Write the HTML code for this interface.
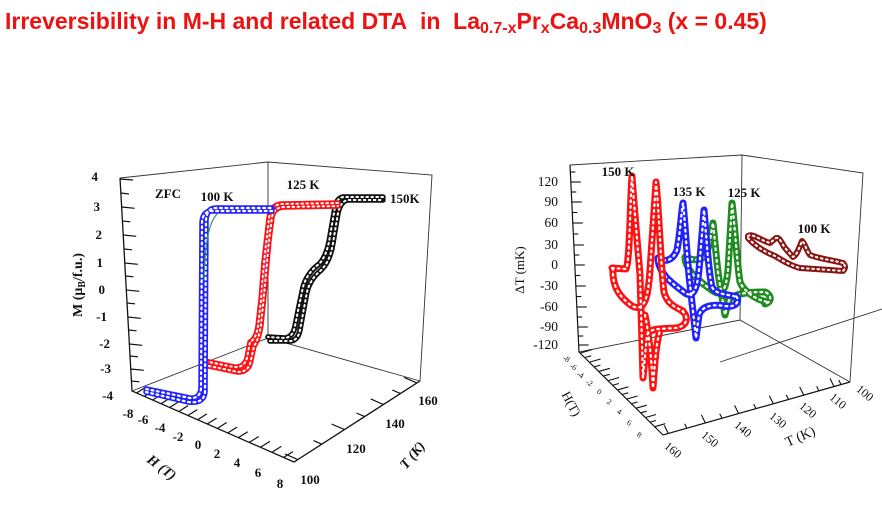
<!DOCTYPE html>
<html><head><meta charset="utf-8"><style>
html,body{margin:0;padding:0;background:#fff;}
svg{display:block;}
</style></head><body>
<svg width="882" height="513" viewBox="0 0 882 513" xmlns="http://www.w3.org/2000/svg" xmlns:xlink="http://www.w3.org/1999/xlink">
<rect width="882" height="513" fill="#fff"/>
<defs>
<path id="lb1" d="M272,211 L212,211 Q203,211 202,222 L201,388 Q200,399 190,398 L146,389"/>
<path id="lb2" d="M146,392 L188,402 Q204,404 205,392 L206,220 Q207,208 216,208 L272,208"/>
<path id="lr1" d="M338,203 L281,204 Q271,205 269,218 L264,262 L261,300 L258,326 Q256,339 250,342 L247,358 Q244,368 234,367 L204,361"/>
<path id="lr2" d="M204,365 L238,372 Q249,372 251,360 L254,346 Q259,339 261,325 L265,285 L269,240 L272,217 Q274,207 285,207 L338,206"/>
<path id="lk1" d="M383,197 L343,197 Q337,198 335,207 L330,236 Q327,256 319,264 Q307,273 303,287 L299,306 L295,326 Q293,337 285,338 L268,337"/>
<path id="lk2" d="M270,341 L291,341 Q298,340 300,330 L304,308 L307,292 Q310,280 319,272 Q330,263 333,243 L338,213 Q341,200 349,200 L383,200"/>
<path id="rd1" d="M748,236 C752,233 760,240 770,243 L776,238 C780,237 782,244 785,248 L793,257 C797,255 799,248 802,241 C805,243 806,250 810,255 C820,259 832,260 843,263"/>
<path id="rd2" d="M748,238 C755,246 765,252 775,256 C785,262 792,266 800,268 L830,270 L843,271 Q847,267 843,263"/>
<path id="rg1" d="M685,257 C692,260 700,262 706,255 C710,245 711,232 713,223 C715,240 717,270 720,285 L725,315 L729,300 C735,293 750,292 765,292 C772,295 772,302 765,304"/>
<path id="rg2" d="M685,259 C687,272 700,282 713,291 C722,297 726,290 728,270 L732,203 C735,225 737,265 740,282 C743,290 755,300 768,302"/>
<path id="rb1" d="M658,258 C664,262 672,262 677,250 C680,235 681,215 683,203 C685,220 687,260 690,285 L696,338 L699,315 C702,306 712,304 725,306 C737,308 740,300 736,296"/>
<path id="rb2" d="M658,260 C660,275 672,283 685,293 C693,298 697,290 699,270 L704,210 C706,230 708,270 712,287 C716,295 728,294 737,297"/>
<path id="rr1" d="M612,268 L626,269 C630,262 630,200 632,176 C634,205 638,250 640,275 L643,378 L647,335 C650,328 660,329 676,328 C688,326 689,316 682,311"/>
<path id="rr2" d="M613,268 C612,285 618,296 632,306 C644,312 648,300 650,270 L656,182 C659,210 661,270 664,292 C667,304 675,307 683,311"/>
<path id="rr3" d="M645,315 C648,330 651,350 653,388 C655,360 656,345 660,330"/>
</defs>

<text x="5" y="29" font-family="'Liberation Sans', Arial, sans-serif" font-weight="bold" font-size="23" fill="#ee1111">Irreversibility in M-H and related DTA&#160; in&#160; La<tspan font-size="16" dy="4">0.7-x</tspan><tspan dy="-4">Pr</tspan><tspan font-size="16" dy="4">x</tspan><tspan dy="-4">Ca</tspan><tspan font-size="16" dy="4">0.3</tspan><tspan dy="-4">MnO</tspan><tspan font-size="16" dy="4">3</tspan><tspan dy="-4"> (x = 0.45)</tspan></text>

<g fill="none" stroke="#333" stroke-width="0.9">
<path d="M120,178 L268,162 L432,175 L420,381"/>
<path d="M268,162 L268,338 M132,391 L268,338 L420,381"/>
</g>
<g fill="none" stroke="#111" stroke-width="1.3">
<path d="M120,178 L132,391 L294,462 L420,381"/>
</g>
<g stroke="#111" stroke-width="1.2">
<line x1="120.1" y1="179" x2="133" y2="180"/>
<line x1="120.8" y1="193" x2="129" y2="194"/>
<line x1="121.6" y1="207" x2="134.6" y2="208.3"/>
<line x1="122.4" y1="221" x2="130.4" y2="221.8"/>
<line x1="123.2" y1="235" x2="136.2" y2="236.3"/>
<line x1="124" y1="249" x2="132" y2="249.8"/>
<line x1="124.8" y1="263" x2="137.8" y2="264.3"/>
<line x1="125.5" y1="276" x2="133.5" y2="276.8"/>
<line x1="126.3" y1="290" x2="139.3" y2="291.3"/>
<line x1="127" y1="303" x2="135" y2="303.8"/>
<line x1="127.8" y1="317" x2="140.8" y2="318.3"/>
<line x1="128.6" y1="330" x2="136.6" y2="330.8"/>
<line x1="129.3" y1="344" x2="142.3" y2="345.3"/>
<line x1="130" y1="356" x2="138" y2="356.8"/>
<line x1="130.8" y1="369" x2="143.8" y2="370.3"/>
<line x1="131.4" y1="381" x2="139.4" y2="381.8"/>
</g>
<g stroke="#111" stroke-width="1.2">
<line x1="136.5" y1="393" x2="145.8" y2="387.1"/>
<line x1="144.3" y1="396.4" x2="153.6" y2="390.5"/>
<line x1="152.6" y1="400" x2="161.9" y2="394.1"/>
<line x1="161" y1="403.7" x2="170.3" y2="397.8"/>
<line x1="169.6" y1="407.5" x2="178.9" y2="401.6"/>
<line x1="178.8" y1="411.5" x2="188.1" y2="405.6"/>
<line x1="187.9" y1="415.5" x2="197.2" y2="409.6"/>
<line x1="197.6" y1="419.8" x2="206.9" y2="413.9"/>
<line x1="207.3" y1="424" x2="216.6" y2="418.1"/>
<line x1="217.4" y1="428.4" x2="226.7" y2="422.5"/>
<line x1="227.7" y1="433" x2="237" y2="427.1"/>
<line x1="238.4" y1="437.6" x2="247.7" y2="431.7"/>
<line x1="249.3" y1="442.4" x2="258.6" y2="436.5"/>
<line x1="260.5" y1="447.3" x2="269.8" y2="441.4"/>
<line x1="272" y1="452.3" x2="281.3" y2="446.4"/>
<line x1="283.6" y1="457.5" x2="292.9" y2="451.6"/>
</g>
<g stroke="#111" stroke-width="1.2">
<line x1="297.8" y1="459.6" x2="285" y2="454"/>
<line x1="321.7" y1="444.2" x2="313.5" y2="440.6"/>
<line x1="344.4" y1="429.6" x2="331.6" y2="424"/>
<line x1="364.6" y1="416.6" x2="356.4" y2="413"/>
<line x1="383.5" y1="404.5" x2="370.7" y2="398.9"/>
<line x1="400.5" y1="393.6" x2="392.3" y2="390"/>
<line x1="416.9" y1="383" x2="404.1" y2="377.4"/>
</g>

<g fill="none" stroke-linecap="round" stroke-linejoin="round">
<use xlink:href="#lk1" href="#lk1" stroke="#111" stroke-width="5.5"/>
<use xlink:href="#lk2" href="#lk2" stroke="#111" stroke-width="5.5"/>
<use xlink:href="#lk1" href="#lk1" stroke="#fff" stroke-width="2" stroke-dasharray="1.6 3.4"/>
<use xlink:href="#lk2" href="#lk2" stroke="#fff" stroke-width="2" stroke-dasharray="1.6 3.4"/>
<use xlink:href="#lr1" href="#lr1" stroke="#ff1111" stroke-width="5.5"/>
<use xlink:href="#lr2" href="#lr2" stroke="#ff1111" stroke-width="5.5"/>
<use xlink:href="#lr1" href="#lr1" stroke="#fff" stroke-width="2" stroke-dasharray="1.6 3.4"/>
<use xlink:href="#lr2" href="#lr2" stroke="#fff" stroke-width="2" stroke-dasharray="1.6 3.4"/>
<path d="M262,295 L268,240" stroke="#e040a0" stroke-width="1"/>
<use xlink:href="#lb1" href="#lb1" stroke="#2222ff" stroke-width="5.5"/>
<use xlink:href="#lb2" href="#lb2" stroke="#2222ff" stroke-width="5.5"/>
<use xlink:href="#lb1" href="#lb1" stroke="#fff" stroke-width="2.2" stroke-dasharray="1.8 3.6"/>
<use xlink:href="#lb2" href="#lb2" stroke="#fff" stroke-width="2.2" stroke-dasharray="1.8 3.6"/>
<path d="M204,280 C205,250 207,225 217,214" stroke="#2a9a5a" stroke-width="1.2"/>
</g>

<g font-family="'Liberation Serif', 'Times New Roman', serif" font-weight="bold" font-size="13" fill="#111">
<g text-anchor="end">
<text x="98" y="181">4</text>
<text x="100" y="211">3</text>
<text x="102" y="239">2</text>
<text x="103" y="267">1</text>
<text x="105" y="294">0</text>
<text x="107" y="321">-1</text>
<text x="110" y="348">-2</text>
<text x="111" y="373">-3</text>
<text x="113" y="400">-4</text>
</g>
<g text-anchor="middle">
<text x="128" y="418">-8</text>
<text x="143" y="424">-6</text>
<text x="160" y="432">-4</text>
<text x="178" y="441">-2</text>
<text x="198" y="449">0</text>
<text x="217" y="458">2</text>
<text x="237" y="467">4</text>
<text x="258" y="477">6</text>
<text x="280" y="488">8</text>
<text x="310" y="484">100</text>
<text x="356" y="453">120</text>
<text x="395" y="428">140</text>
<text x="428" y="405">160</text>
<text x="168" y="198">ZFC</text>
<text x="217" y="201">100 K</text>
<text x="303" y="189">125 K</text>
</g>
<text x="390" y="203">150K</text>
<text transform="translate(82,285) rotate(-90)" text-anchor="middle" font-size="14">M (μ<tspan font-size="10" dy="3">B</tspan><tspan dy="-3">/f.u.)</tspan></text>
<text transform="translate(162,467) rotate(37)" text-anchor="middle" font-style="italic" font-size="14" dy="5">H (T)</text>
<text transform="translate(412,455) rotate(-50)" text-anchor="middle" font-style="italic" font-size="14" dy="5">T (K)</text>
</g>

<g fill="none" stroke="#333" stroke-width="0.9">
<path d="M570,165 L742,155 L863,173 L850,382"/>
<path d="M742,155 L740,320 M579,352 L740,320 L850,382"/>
<path d="M720,362 L882,309"/>
</g>
<g fill="none" stroke="#111" stroke-width="1.2">
<path d="M570,165 L579,352 L663,435 L850,382"/>
</g>
<g stroke="#111" stroke-width="1.1">
<line x1="570.3" y1="172" x2="575.3" y2="172"/>
<line x1="570.8" y1="182" x2="580.8" y2="182"/>
<line x1="571.3" y1="192" x2="576.3" y2="192"/>
<line x1="571.8" y1="202" x2="581.8" y2="202"/>
<line x1="572.3" y1="212.5" x2="577.3" y2="212.5"/>
<line x1="572.8" y1="223" x2="582.8" y2="223"/>
<line x1="573.3" y1="234" x2="578.3" y2="234"/>
<line x1="573.8" y1="245" x2="583.8" y2="245"/>
<line x1="574.3" y1="255" x2="579.3" y2="255"/>
<line x1="574.8" y1="265" x2="584.8" y2="265"/>
<line x1="575.3" y1="275.5" x2="580.3" y2="275.5"/>
<line x1="575.8" y1="286" x2="585.8" y2="286"/>
<line x1="576.3" y1="296.5" x2="581.3" y2="296.5"/>
<line x1="576.8" y1="307" x2="586.8" y2="307"/>
<line x1="577.3" y1="317" x2="582.3" y2="317"/>
<line x1="577.8" y1="327" x2="587.8" y2="327"/>
<line x1="578.2" y1="336" x2="583.2" y2="336"/>
<line x1="578.6" y1="345" x2="588.6" y2="345"/>
</g>
<g stroke="#111" stroke-width="1.1">
<line x1="580.8" y1="352.8" x2="591.4" y2="349.8"/>
<line x1="585.4" y1="357.4" x2="591.2" y2="355.8"/>
<line x1="590" y1="362" x2="600.6" y2="359"/>
<line x1="594.7" y1="366.7" x2="600.5" y2="365.1"/>
<line x1="599.3" y1="371.3" x2="609.9" y2="368.3"/>
<line x1="603.9" y1="375.9" x2="609.7" y2="374.3"/>
<line x1="608.5" y1="380.5" x2="619.1" y2="377.5"/>
<line x1="613.1" y1="385.1" x2="618.9" y2="383.5"/>
<line x1="617.8" y1="389.8" x2="628.4" y2="386.8"/>
<line x1="622.4" y1="394.4" x2="628.2" y2="392.8"/>
<line x1="627" y1="399" x2="637.6" y2="396"/>
<line x1="631.6" y1="403.6" x2="637.4" y2="402"/>
<line x1="636.2" y1="408.2" x2="646.8" y2="405.2"/>
<line x1="640.8" y1="412.8" x2="646.6" y2="411.2"/>
<line x1="645.5" y1="417.5" x2="656.1" y2="414.5"/>
<line x1="650.1" y1="422.1" x2="655.9" y2="420.5"/>
<line x1="654.7" y1="426.7" x2="665.3" y2="423.7"/>
</g>
<g stroke="#111" stroke-width="1.1">
<line x1="668.3" y1="433.5" x2="664.3" y2="425.4"/>
<line x1="686.9" y1="428.3" x2="684.6" y2="423.8"/>
<line x1="705.4" y1="423" x2="701.4" y2="414.9"/>
<line x1="722" y1="418.3" x2="719.7" y2="413.8"/>
<line x1="738.6" y1="413.5" x2="734.6" y2="405.4"/>
<line x1="756" y1="408.6" x2="753.7" y2="404.1"/>
<line x1="773.3" y1="403.7" x2="769.3" y2="395.6"/>
<line x1="788.5" y1="399.4" x2="786.2" y2="394.9"/>
<line x1="803.7" y1="395" x2="799.7" y2="386.9"/>
<line x1="818.9" y1="390.8" x2="816.6" y2="386.3"/>
<line x1="834" y1="386.5" x2="830" y2="378.4"/>
<line x1="841" y1="384.5" x2="838.7" y2="380"/>
</g>

<g fill="none" stroke-linecap="round" stroke-linejoin="round">
<use xlink:href="#rd1" href="#rd1" stroke="#8b1515" stroke-width="6"/>
<use xlink:href="#rd2" href="#rd2" stroke="#8b1515" stroke-width="6"/>
<use xlink:href="#rd1" href="#rd1" stroke="#fff" stroke-width="2" stroke-dasharray="1.6 3.6"/>
<use xlink:href="#rd2" href="#rd2" stroke="#fff" stroke-width="2" stroke-dasharray="1.6 3.6"/>
<use xlink:href="#rg1" href="#rg1" stroke="#1e8c1e" stroke-width="7"/>
<use xlink:href="#rg2" href="#rg2" stroke="#1e8c1e" stroke-width="7"/>
<use xlink:href="#rg1" href="#rg1" stroke="#fff" stroke-width="2.2" stroke-dasharray="1.8 4"/>
<use xlink:href="#rg2" href="#rg2" stroke="#fff" stroke-width="2.2" stroke-dasharray="1.8 4"/>
<use xlink:href="#rb1" href="#rb1" stroke="#2222ff" stroke-width="7"/>
<use xlink:href="#rb2" href="#rb2" stroke="#2222ff" stroke-width="7"/>
<use xlink:href="#rb1" href="#rb1" stroke="#fff" stroke-width="2.2" stroke-dasharray="1.8 4"/>
<use xlink:href="#rb2" href="#rb2" stroke="#fff" stroke-width="2.2" stroke-dasharray="1.8 4"/>
<use xlink:href="#rr1" href="#rr1" stroke="#ff1111" stroke-width="7"/>
<use xlink:href="#rr2" href="#rr2" stroke="#ff1111" stroke-width="7"/>
<use xlink:href="#rr3" href="#rr3" stroke="#ff1111" stroke-width="7"/>
<use xlink:href="#rr1" href="#rr1" stroke="#fff" stroke-width="2.2" stroke-dasharray="1.8 4"/>
<use xlink:href="#rr2" href="#rr2" stroke="#fff" stroke-width="2.2" stroke-dasharray="1.8 4"/>
<use xlink:href="#rr3" href="#rr3" stroke="#fff" stroke-width="2.2" stroke-dasharray="1.8 4"/>
</g>

<g font-family="'Liberation Serif', 'Times New Roman', serif" fill="#111">
<g font-size="13.5" text-anchor="end">
<text x="558" y="186">120</text>
<text x="558" y="206">90</text>
<text x="558" y="227">60</text>
<text x="558" y="249">30</text>
<text x="558" y="269">0</text>
<text x="558" y="290">-30</text>
<text x="558" y="311">-60</text>
<text x="558" y="331">-90</text>
<text x="558" y="349">-120</text>
</g>
<text transform="translate(524,270) rotate(-90)" text-anchor="middle" font-size="13">ΔT (mK)</text>
<g font-size="8" text-anchor="middle">
<text transform="translate(565,361) rotate(30)">-8</text>
<text transform="translate(572,369) rotate(30)">-6</text>
<text transform="translate(579,377) rotate(30)">-4</text>
<text transform="translate(588,385) rotate(30)">-2</text>
<text transform="translate(598,394) rotate(30)">0</text>
<text transform="translate(608,404) rotate(30)">2</text>
<text transform="translate(618,414) rotate(30)">4</text>
<text transform="translate(628,425) rotate(30)">6</text>
<text transform="translate(638,437) rotate(30)">8</text>
</g>
<text transform="translate(571,404) rotate(62)" text-anchor="middle" font-size="13" dy="4">H(T)</text>
<g font-size="12" text-anchor="middle">
<text transform="translate(673,450) rotate(40)" dy="4">160</text>
<text transform="translate(710,439) rotate(40)" dy="4">150</text>
<text transform="translate(743,429) rotate(40)" dy="4">140</text>
<text transform="translate(778,420) rotate(40)" dy="4">130</text>
<text transform="translate(808,410) rotate(40)" dy="4">120</text>
<text transform="translate(838,401) rotate(40)" dy="4">110</text>
<text transform="translate(865,393) rotate(40)" dy="4">100</text>
</g>
<text transform="translate(800,436) rotate(-24)" text-anchor="middle" font-size="14" dy="5">T (K)</text>
<g font-size="13" font-weight="bold" text-anchor="middle">
<text x="618" y="176">150 K</text>
<text x="689" y="196">135 K</text>
<text x="744" y="197">125 K</text>
<text x="814" y="233">100 K</text>
</g>
</g>
</svg>
</body></html>
